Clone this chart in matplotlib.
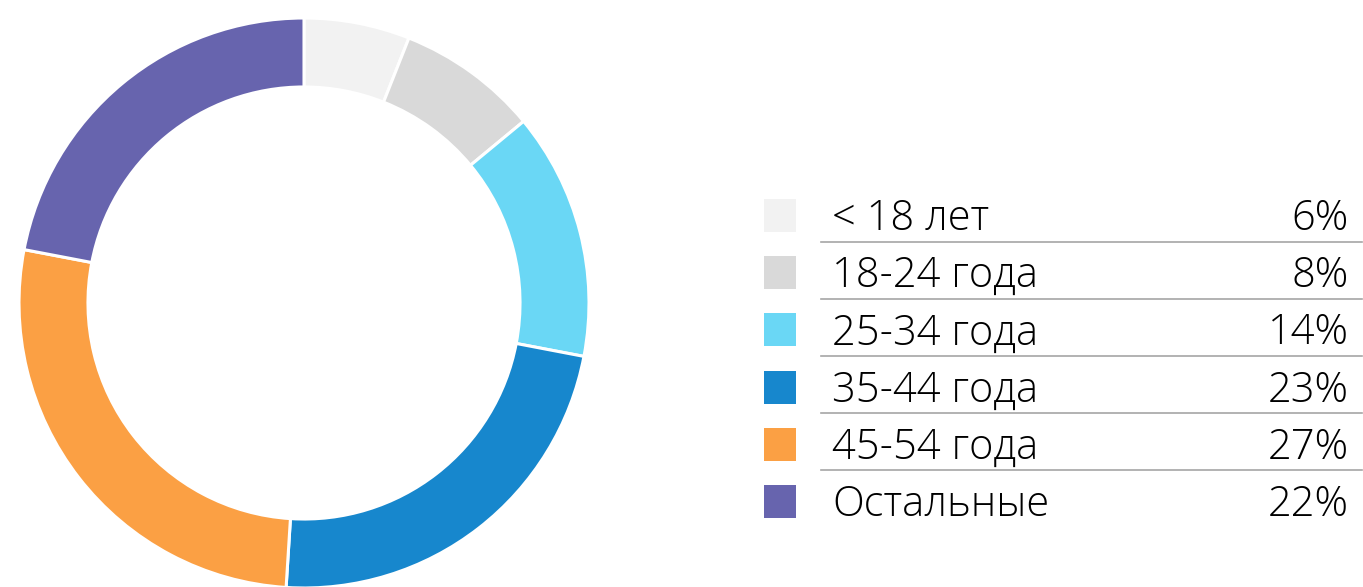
import matplotlib
matplotlib.use("Agg")
from matplotlib import pyplot as plt
from matplotlib.patches import Rectangle

labels = ["< 18 лет", "18-24 года", "25-34 года", "35-44 года", "45-54 года", "Остальные"]
shares = [6, 8, 14, 23, 27, 22]
colors = ["#f2f2f2", "#d9d9d9", "#6ad7f5", "#1787cd", "#fba044", "#6764ae"]

W, H = 1363, 587
plt.rcParams["font.family"] = ["Open Sans", "DejaVu Sans"]

fig = plt.figure(figsize=(W / 100, H / 100), dpi=100)
ax = fig.add_axes([0, 0, 1, 1])

# donut, centre and radius in pixels (y up)
cx, cy, r = 304, H - 303, 285
ax.pie(shares, colors=colors, startangle=90, counterclock=False,
       center=(cx, cy), radius=r,
       wedgeprops=dict(width=r * 0.242, edgecolor="white", linewidth=2.2))

ax.set_xlim(0, W)
ax.set_ylim(0, H)
ax.set_aspect("auto")
ax.axis("off")

# legend rows
row0, step = 215.5, 57.2
for i, (lab, val, col) in enumerate(zip(labels, shares, colors)):
    yc = H - (row0 + i * step)
    ax.add_patch(Rectangle((764, yc - 16.5), 32, 33, color=col, lw=0))
    ax.text(832, yc - 14.5, lab, fontsize=30, fontweight="light",
            ha="left", va="baseline", color="#000000")
    ax.text(1349, yc - 14.5, f"{val}%", fontsize=30, fontweight="light",
            ha="right", va="baseline", color="#000000")
    if i < len(labels) - 1:
        ax.plot([821, 1362], [yc - 26, yc - 26], color="#a6a6a6", lw=1.2)

fig.savefig("out.png", dpi=100)
